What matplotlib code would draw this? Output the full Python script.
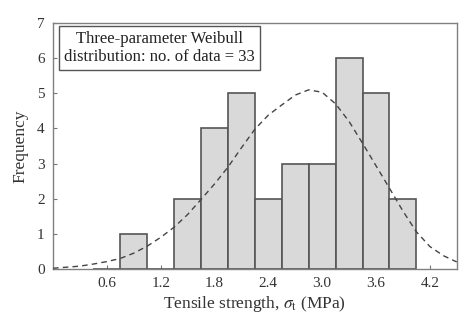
import matplotlib
matplotlib.use("Agg")
import matplotlib.pyplot as plt

# Histogram bins (MPa) and counts
bin_edges = [0.45, 0.75, 1.05, 1.35, 1.65, 1.95, 2.25, 2.55, 2.85, 3.15, 3.45, 3.75, 4.05]
counts = [0, 1, 0, 2, 4, 5, 2, 3, 3, 6, 5, 2]

# Fitted three-parameter Weibull curve (scaled to frequency)
fit_x = [0.0, 0.2, 0.3, 0.45, 0.6, 0.75, 0.9, 1.05, 1.2, 1.35, 1.5, 1.65, 1.8, 1.95,
         2.1, 2.25, 2.4, 2.55, 2.7, 2.85, 3.0, 3.15, 3.3, 3.45, 3.6, 3.75, 3.9,
         4.05, 4.2, 4.35, 4.5]
fit_y = [0.02, 0.06, 0.08, 0.14, 0.21, 0.30, 0.45, 0.65, 0.90, 1.19, 1.55, 1.98, 2.42, 2.90,
         3.45, 3.98, 4.38, 4.67, 4.95, 5.10, 5.03, 4.70, 4.20, 3.58, 2.94, 2.30, 1.65,
         1.06, 0.64, 0.38, 0.20]

x_ticks = [0.6, 1.2, 1.8, 2.4, 3.0, 3.6, 4.2]
y_ticks = [0, 1, 2, 3, 4, 5, 6, 7]

plt.rcParams['font.family'] = ['Liberation Serif', 'DejaVu Serif']
plt.rcParams['mathtext.fontset'] = 'stix'

fig = plt.figure(figsize=(4.74, 3.30), dpi=100)
ax = fig.add_axes([0.112, 0.185, 0.8515, 0.745])

widths = [bin_edges[i + 1] - bin_edges[i] for i in range(len(counts))]
ax.bar(bin_edges[:-1], counts, width=widths, align='edge',
       color='#d9d9d9', edgecolor='#555555', linewidth=1.2, zorder=2)

ax.plot(fit_x, fit_y, linestyle=(0, (4, 3)), color='#444444', linewidth=1.0, zorder=3)

ax.set_xlim(0, 4.5)
ax.set_ylim(0, 7)
ax.set_xticks(x_ticks)
ax.set_xticklabels([f"{v:.1f}" for v in x_ticks])
ax.set_yticks(y_ticks)
ax.tick_params(direction='in', length=3, width=0.8, color='#777777',
               labelsize=11, labelcolor='#333333', pad=6)

for s in ax.spines.values():
    s.set_color('#808080')
    s.set_linewidth(1.0)

ax.set_xlabel(r"Tensile strength, $\sigma_{\mathrm{t}}$ (MPa)", fontsize=12.5,
              color='#333333', labelpad=3)
ax.set_ylabel("Frequency", fontsize=12.5, color='#333333', labelpad=6)

ax.text(1.185, 6.29, "Three-parameter Weibull\ndistribution: no. of data = 33",
        ha='center', va='center', fontsize=12, color='#222222', linespacing=1.15,
        bbox=dict(boxstyle='square,pad=0.3', facecolor='white',
                  edgecolor='#555555', linewidth=1.0),
        zorder=4)

fig.savefig("out.png", dpi=100)
